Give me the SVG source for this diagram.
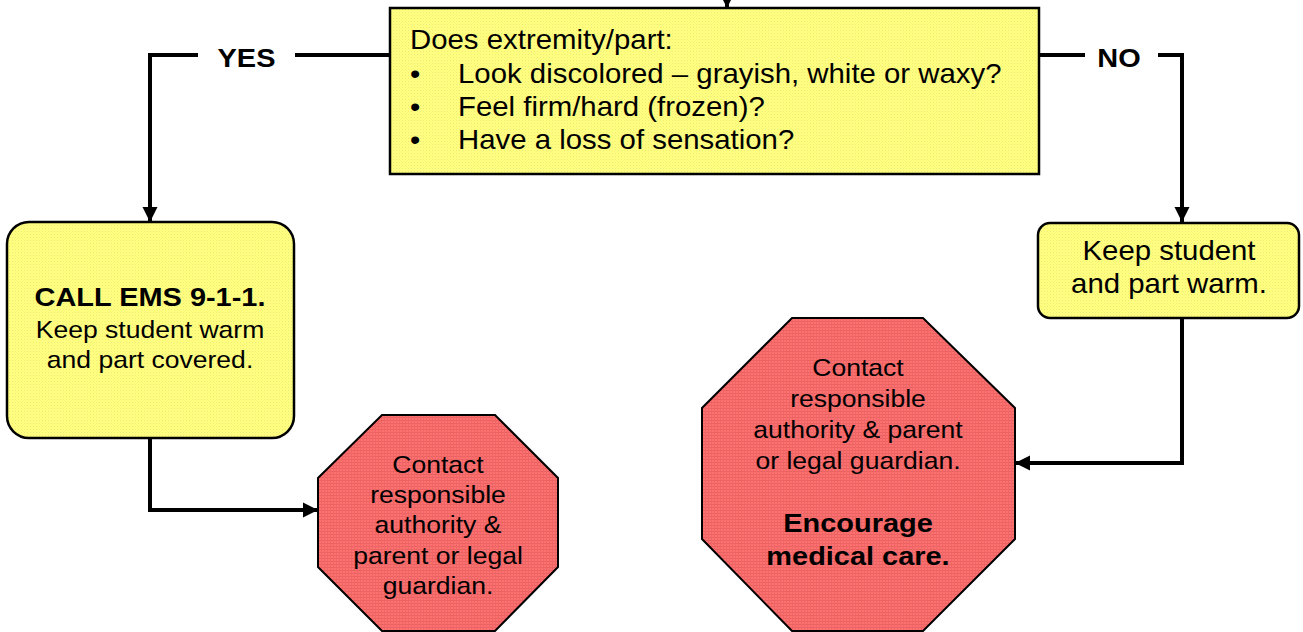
<svg xmlns="http://www.w3.org/2000/svg" width="1303" height="632" viewBox="0 0 1303 632">
<defs>
<pattern id="yel" width="3" height="3" patternUnits="userSpaceOnUse">
<rect width="3" height="3" fill="#FFFF80"/>
<rect width="1" height="1" fill="#EFE97A"/>
<rect x="1.5" y="1.5" width="1" height="1" fill="#F7F37C"/>
</pattern>
<pattern id="red" width="3" height="3" patternUnits="userSpaceOnUse">
<rect width="3" height="3" fill="#FF7070"/>
<rect width="3" height="1" fill="#E86262"/>
<rect width="1" height="3" fill="#EE6666"/>
</pattern>
<marker id="arr" markerUnits="userSpaceOnUse" markerWidth="16" markerHeight="16" viewBox="0 0 16 16" refX="15" refY="8" orient="auto">
<path d="M0,0.5 L15,8 L0,15.5 Z" fill="#000"/>
</marker>
</defs>
<style>
.box{fill:url(#yel);stroke:#000;stroke-width:2.5}
.oct{fill:url(#red);stroke:#000;stroke-width:2}
.con{fill:none;stroke:#000;stroke-width:4}
text{font-family:"Liberation Sans",Arial,sans-serif;fill:#000}
.t26{font-size:27px}
.t23{font-size:24.4px;text-anchor:middle}
.m26{font-size:27px;text-anchor:middle}
.b{font-size:26.6px;font-weight:bold;text-anchor:middle}
</style>
<g id="connectors">
<path class="con" d="M727,-20 L727,8" marker-end="url(#arr)"/>
<path class="con" d="M390,55 L295,55"/>
<path class="con" d="M198,55 L150,55 L150,222" marker-end="url(#arr)"/>
<path class="con" d="M1039,55 L1085,55"/>
<path class="con" d="M1158,55 L1182,55 L1182,222" marker-end="url(#arr)"/>
<path class="con" d="M150,439 L150,510 L318,510" marker-end="url(#arr)"/>
<path class="con" d="M1182,318 L1182,463 L1015,463" marker-end="url(#arr)"/>
<text class="b" transform="translate(246.5,67) scale(1.088,1)">YES</text>
<text class="b" transform="translate(1119,67) scale(1.088,1)">NO</text>
</g>
<g id="question">
<rect class="box" x="390" y="8" width="649" height="166"/>
<text class="t26" transform="translate(410,49) scale(1.088,1)">Does extremity/part:</text>
<text class="t26" transform="translate(410,83) scale(1.088,1)">•</text>
<text class="t26" transform="translate(458,83) scale(1.088,1)">Look discolored – grayish, white or waxy?</text>
<text class="t26" transform="translate(410,116) scale(1.088,1)">•</text>
<text class="t26" transform="translate(458,116) scale(1.088,1)">Feel firm/hard (frozen)?</text>
<text class="t26" transform="translate(410,149) scale(1.088,1)">•</text>
<text class="t26" transform="translate(458,149) scale(1.088,1)">Have a loss of sensation?</text>
</g>
<g id="call-ems">
<rect class="box" x="7" y="222" width="287" height="216" rx="22"/>
<text class="b" transform="translate(150,306) scale(1.088,1)">CALL EMS 9-1-1.</text>
<text class="t23" transform="translate(150,338) scale(1.088,1)">Keep student warm</text>
<text class="t23" transform="translate(150,368) scale(1.088,1)">and part covered.</text>
</g>
<g id="keep-warm">
<rect class="box" x="1038" y="223" width="261" height="95" rx="12"/>
<text class="m26" transform="translate(1169,260) scale(1.088,1)">Keep student</text>
<text class="m26" transform="translate(1169,293) scale(1.088,1)">and part warm.</text>
</g>
<g id="contact-left">
<polygon class="oct" points="382,415 495,415 558,478 558,567 495,631 382,631 318,567 318,478"/>
<text class="t23" transform="translate(438,473) scale(1.088,1)">Contact</text>
<text class="t23" transform="translate(438,503) scale(1.088,1)">responsible</text>
<text class="t23" transform="translate(438,533) scale(1.088,1)">authority &amp;</text>
<text class="t23" transform="translate(438,564) scale(1.088,1)">parent or legal</text>
<text class="t23" transform="translate(438,594) scale(1.088,1)">guardian.</text>
</g>
<g id="contact-right">
<polygon class="oct" points="792,318 923,318 1015,408 1015,539 923,631 792,631 702,539 702,408"/>
<text class="t23" transform="translate(858,376) scale(1.088,1)">Contact</text>
<text class="t23" transform="translate(858,407) scale(1.088,1)">responsible</text>
<text class="t23" transform="translate(858,438) scale(1.088,1)">authority &amp; parent</text>
<text class="t23" transform="translate(858,469) scale(1.088,1)">or legal guardian.</text>
<text class="b" transform="translate(858,532) scale(1.088,1)">Encourage</text>
<text class="b" transform="translate(858,565) scale(1.088,1)">medical care.</text>
</g>
</svg>
